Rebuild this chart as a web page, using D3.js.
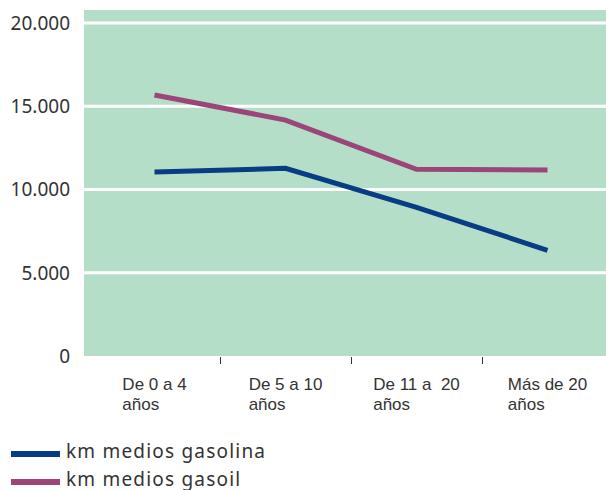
<!DOCTYPE html>
<html lang="es">
    <head>
        <meta charset="utf-8"/>
        <script src="https://d3js.org/d3.v7.min.js"></script>
        <style>
            body { margin: 0; background: #fff; }
            svg { display: block; }
        </style>
    </head>
    <body>
        <div id="chart"></div>
    </body>
    <script>
        // datos
        var categorias = [["De 0 a 4", "años"], ["De 5 a 10", "años"], ["De 11 a\u00a0 20", "años"], ["Más de 20", "años"]];
        var gasolina = [11050, 11270, 8930, 6350];
        var gasoil = [15680, 14170, 11210, 11170];
        var yTicks = [0, 5000, 10000, 15000, 20000];
        var yTickLabels = ["0", "5.000", "10.000", "15.000", "20.000"];
        var series = [
            {name: "km medios gasolina", values: gasolina, color: "#083d85"},
            {name: "km medios gasoil", values: gasoil, color: "#9b4578"}
        ];

        var width = 606, height = 490;
        var svg = d3.select("#chart")
            .append("svg")
                .attr("width", width)
                .attr("height", height);

        var x = d3.scaleBand()
            .domain(d3.range(categorias.length))
            .range([89, 613]);

        var y = d3.scaleLinear()
            .domain([0, 20000])
            .range([356, 23]);

        // fondo verde
        svg.append("rect")
            .attr("x", 84)
            .attr("y", y(20780))
            .attr("width", width - 84)
            .attr("height", y(0) - y(20780))
            .attr("fill", "#b4dec8");

        // lineas de rejilla
        svg.selectAll(".grid")
            .data(yTicks.slice(1))
            .enter()
            .append("line")
                .attr("x1", 84)
                .attr("x2", width)
                .attr("y1", function (d) { return y(d); })
                .attr("y2", function (d) { return y(d); })
                .attr("stroke", "#fff")
                .attr("stroke-width", 3);

        // eje y
        svg.selectAll(".ylab")
            .data(yTicks)
            .enter()
            .append("text")
                .attr("x", 70)
                .attr("y", function (d) { return y(d); })
                .attr("dy", "0.36em")
                .attr("text-anchor", "end")
                .attr("font-family", "Noto Sans")
                .attr("font-size", 19)
                .attr("fill", "#333")
                .text(function (d, i) { return yTickLabels[i]; });

        // marcas eje x (limites de categoria)
        svg.selectAll(".xtick")
            .data(d3.range(1, categorias.length))
            .enter()
            .append("line")
                .attr("x1", function (d) { return Math.round(x(d)) + 0.5; })
                .attr("x2", function (d) { return Math.round(x(d)) + 0.5; })
                .attr("y1", y(0) + 1)
                .attr("y2", y(0) + 8)
                .attr("stroke", "#333")
                .attr("stroke-width", 1);

        // etiquetas eje x
        var labels = svg.selectAll(".xlab")
            .data(categorias)
            .enter()
            .append("text")
                .attr("font-family", "Liberation Sans, Arial, sans-serif")
                .attr("font-size", 17)
                .attr("fill", "#333");

        labels.append("tspan")
            .attr("y", 390)
            .text(function (d) { return d[0]; });
        labels.append("tspan")
            .attr("y", 410)
            .text(function (d) { return d[1]; });

        labels.each(function (d, i) {
            var w = this.querySelector("tspan").getComputedTextLength();
            var left = x(i) + x.bandwidth() / 2 - w / 2;
            d3.select(this).selectAll("tspan").attr("x", left);
        });

        // lineas
        var line = d3.line()
            .x(function (d, i) { return x(i) + x.bandwidth() / 2; })
            .y(function (d) { return y(d); });

        svg.selectAll(".serie")
            .data(series)
            .enter()
            .append("path")
                .attr("d", function (d) { return line(d.values); })
                .attr("fill", "none")
                .attr("stroke", function (d) { return d.color; })
                .attr("stroke-width", 5);

        // leyenda
        var leyenda = svg.selectAll(".leg")
            .data(series)
            .enter()
            .append("g")
                .attr("transform", function (d, i) { return "translate(0," + (454 + i * 28) + ")"; });

        leyenda.append("line")
            .attr("x1", 11)
            .attr("x2", 60)
            .attr("stroke", function (d) { return d.color; })
            .attr("stroke-width", 6);

        leyenda.append("text")
            .attr("x", 66)
            .attr("y", 4)
            .attr("font-family", "Noto Sans")
            .attr("font-size", 19)
            .attr("letter-spacing", 1.2)
            .attr("fill", "#333")
            .text(function (d) { return d.name; });
    </script>
</html>
